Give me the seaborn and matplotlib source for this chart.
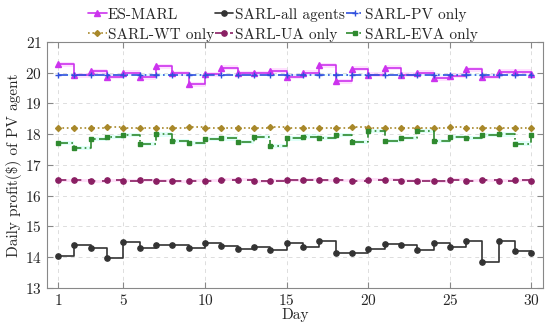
import numpy as np
import pandas as pd
import seaborn as sns
import matplotlib.pyplot as plt

days = list(range(1, 31))

es_marl = [20.27, 19.91, 20.04, 19.86, 20.00, 19.84, 20.20, 19.97, 19.62, 19.95,
           20.15, 19.97, 19.97, 20.06, 19.86, 19.99, 20.23, 19.72, 20.12, 19.93,
           20.15, 19.93, 20.00, 19.82, 19.90, 20.10, 19.87, 20.03, 20.03, 19.95]
sarl_all = [14.05, 14.39, 14.29, 13.98, 14.48, 14.31, 14.39, 14.38, 14.31, 14.45,
            14.35, 14.27, 14.34, 14.22, 14.47, 14.32, 14.52, 14.12, 14.15, 14.26,
            14.44, 14.40, 14.24, 14.45, 14.33, 14.53, 13.85, 14.51, 14.21, 14.12]
sarl_pv = [19.92, 19.92, 19.93, 19.91, 19.92, 19.92, 19.91, 19.93, 19.92, 19.92,
           19.92, 19.93, 19.92, 19.92, 19.91, 19.92, 19.92, 19.93, 19.92, 19.92,
           19.91, 19.92, 19.93, 19.92, 19.92, 19.91, 19.92, 19.92, 19.93, 19.92]
sarl_wt = [18.21, 18.21, 18.20, 18.22, 18.21, 18.20, 18.21, 18.21, 18.22, 18.21,
           18.21, 18.20, 18.21, 18.22, 18.21, 18.21, 18.20, 18.21, 18.22, 18.21,
           18.21, 18.20, 18.21, 18.21, 18.22, 18.21, 18.21, 18.20, 18.21, 18.21]
sarl_ua = [16.50, 16.50, 16.47, 16.50, 16.48, 16.50, 16.48, 16.47, 16.49, 16.48,
           16.51, 16.51, 16.47, 16.48, 16.50, 16.51, 16.50, 16.50, 16.49, 16.51,
           16.51, 16.49, 16.48, 16.47, 16.52, 16.49, 16.50, 16.49, 16.50, 16.48]
sarl_eva = [17.72, 17.54, 17.83, 17.90, 17.97, 17.67, 17.99, 17.77, 17.72, 17.83,
            17.86, 17.74, 17.90, 17.61, 17.86, 17.92, 17.88, 17.96, 17.75, 18.10,
            17.77, 17.88, 18.10, 17.77, 17.91, 17.88, 17.97, 17.99, 17.69, 17.97]

names = ['ES-MARL', 'SARL-all agents', 'SARL-PV only',
         'SARL-WT only', 'SARL-UA only', 'SARL-EVA only']
series = [es_marl, sarl_all, sarl_pv, sarl_wt, sarl_ua, sarl_eva]
colors = ['#cc33ee', '#333333', '#3050dd', '#a8882a', '#8a1f63', '#2f8a2f']
markers = ['^', 'o', '+', 'D', 'o', 's']
styles = ['-', '-', (0, (6, 2, 1, 2)), ':', (0, (5, 4)), (0, (6, 2, 1, 2))]
msizes = [4, 3.8, 5, 3, 3.8, 3.3]
band = [0.08, 0, 0.03, 0, 0.05, 0.07]
band_col = ['#ff99ff', None, '#99ffff', None, '#ff99ee', '#99ffee']

df = pd.DataFrame({'Day': days})
for n, s in zip(names, series):
    df[n] = s

sns.set_style('ticks')
plt.rcParams['font.family'] = 'serif'
plt.rcParams['font.serif'] = ['cmr10', 'DejaVu Serif']
plt.rcParams['mathtext.fontset'] = 'cm'
plt.rcParams['axes.formatter.use_mathtext'] = True

fig = plt.figure(figsize=(5.5, 3.34), dpi=100)
ax = fig.add_axes([0.085, 0.138, 0.902, 0.737])

for i, n in enumerate(names):
    if band[i] > 0:
        ax.fill_between(df['Day'], df[n] - band[i], df[n] + band[i],
                        step='post', color=band_col[i], alpha=0.3, lw=0)
    sns.lineplot(data=df, x='Day', y=n, ax=ax, color=colors[i],
                 linestyle=styles[i], marker=markers[i], markersize=msizes[i],
                 markeredgecolor=colors[i], markeredgewidth=1.0,
                 drawstyle='steps-post', linewidth=1.2, label=n)

ax.set_xlim(0.3, 30.7)
ax.set_ylim(13, 21)
ax.set_xticks([1, 5, 10, 15, 20, 25, 30])
ax.set_yticks(range(13, 22))
ax.grid(True, linestyle=(0, (4, 4)), color='#dddddd', linewidth=0.7)
ax.tick_params(direction='in', top=True, right=True, labelsize=11,
               color='#888888', length=4)
for sp in ax.spines.values():
    sp.set_color('#888888')
    sp.set_linewidth(0.8)
ax.set_xlabel('Day', fontsize=11, labelpad=0)
ax.set_ylabel(r'Daily profit(\$) of PV agent', fontsize=11, labelpad=2)

h, l = ax.get_legend_handles_labels()
order = [0, 3, 1, 4, 2, 5]
ax.legend([h[k] for k in order], [l[k] for k in order], ncol=3,
          loc='upper center', bbox_to_anchor=(0.515, 1.0),
          bbox_transform=fig.transFigure, frameon=False, fontsize=11,
          handlelength=1.2, handletextpad=0.1, columnspacing=0.05,
          labelspacing=0.4, borderaxespad=0.1)

fig.savefig('out.png', dpi=100)
